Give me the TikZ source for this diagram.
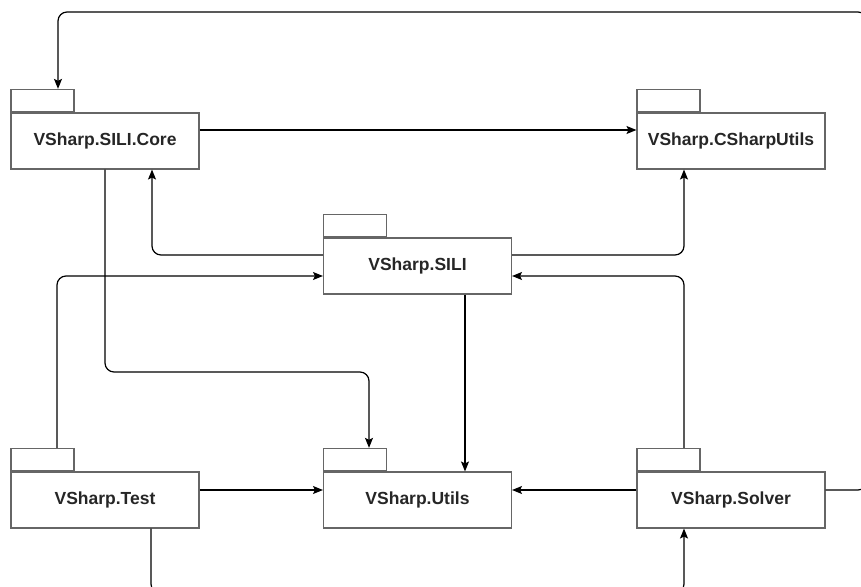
\documentclass[tikz,border=0pt]{standalone}
\usepackage{fontspec}
\setmainfont{Liberation Sans}
\usetikzlibrary{arrows.meta}
\definecolor{boxgray}{HTML}{666666}
\begin{document}
\begin{tikzpicture}[x=1pt,y=-1pt,
  pkgbody/.style={draw=boxgray,line width=1.1pt,fill=white,minimum width=188pt,minimum height=56pt,inner sep=0pt,font=\fontsize{17.5}{20}\selectfont\bfseries,text=black!85},
  pkgtab/.style={draw=boxgray,line width=1.1pt,fill=white,minimum width=63pt,minimum height=22.5pt,inner sep=0pt,anchor=south west},
  conn/.style={line width=1.2pt,rounded corners=9pt,-{Stealth[length=10pt,width=8pt,inset=2pt]}},
  plain/.style={line width=1.2pt,rounded corners=9pt}]
\useasboundingbox (0,0) rectangle (861,586);
% packages
\node[pkgbody] (core) at (105,141) {VSharp.SILI.Core};
\node[pkgtab] (coretab) at (core.north west) {};
\node[pkgbody] (csu) at (731,141) {VSharp.CSharpUtils};
\node[pkgtab] (csutab) at (csu.north west) {};
\node[pkgbody] (sili) at (417.5,266) {VSharp.SILI};
\node[pkgtab] (silitab) at (sili.north west) {};
\node[pkgbody] (test) at (105,500) {VSharp.Test};
\node[pkgtab] (testtab) at (test.north west) {};
\node[pkgbody] (utils) at (417.5,500) {VSharp.Utils};
\node[pkgtab] (utilstab) at (utils.north west) {};
\node[pkgbody] (solver) at (731,500) {VSharp.Solver};
\node[pkgtab] (solvertab) at (solver.north west) {};
% connectors
\draw[conn] (solver.east |- 0,490) -- (867,490) -- (867,12) -- (58,12) -- (coretab.north -| 58,0);
\draw[conn] (core.east |- 0,130) -- (csu.west |- 0,130);
\draw[conn] (core.south -| 105,0) -- (105,372) -- (369,372) -- (utilstab.north -| 369,0);
\draw[conn] (sili.west |- 0,255) -- (152,255) -- (core.south -| 152,0);
\draw[conn] (testtab.north -| 57,0) -- (57,276) -- (sili.west |- 0,276);
\draw[conn] (sili.east |- 0,255) -- (684,255) -- (csu.south -| 684,0);
\draw[conn] (solvertab.north -| 684,0) -- (684,276) -- (sili.east |- 0,276);
\draw[conn] (sili.south -| 465,0) -- (utils.north -| 465,0);
\draw[conn] (test.east |- 0,490) -- (utils.west |- 0,490);
\draw[conn] (solver.west |- 0,490) -- (utils.east |- 0,490);
\draw[conn] (test.south -| 151,0) -- (151,593) -- (684,593) -- (solver.south -| 684,0);
\end{tikzpicture}
\end{document}
